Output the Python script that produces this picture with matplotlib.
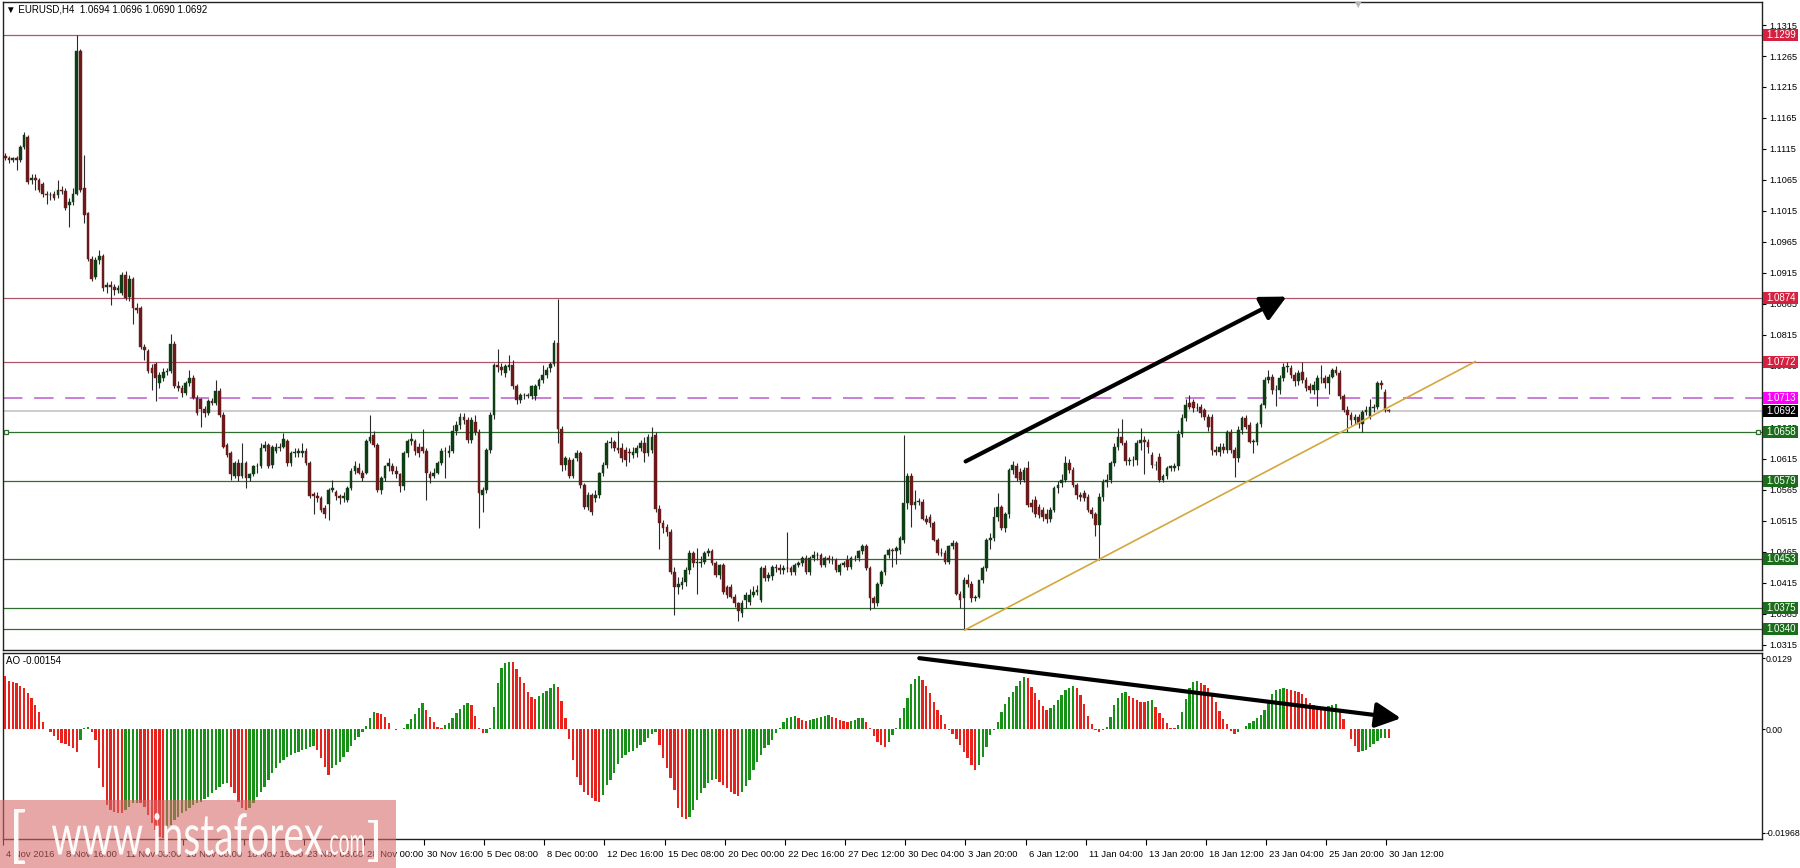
import numpy as np
import matplotlib.pyplot as plt
from matplotlib.patches import Rectangle, FancyArrowPatch, PathPatch
from matplotlib.transforms import blended_transform_factory, ScaledTranslation, Affine2D
from matplotlib.textpath import TextPath
from matplotlib.font_manager import FontProperties

plt.rcParams['font.family'] = ['Liberation Sans', 'DejaVu Sans']

# ---- EURUSD H4 candles, 4 Nov 2016 .. 30 Jan 2017 ----
opens = [
    1.1103, 1.1100, 1.1097, 1.1100, 1.1097, 1.1119, 1.1135, 1.1065, 1.1068, 1.1065,
    1.1059, 1.1043, 1.1040, 1.1043, 1.1040, 1.1049, 1.1048, 1.1024, 1.1030, 1.1043,
    1.1273, 1.1052, 1.1011, 1.0938, 1.0909, 1.0936, 1.0942, 1.0893, 1.0896, 1.0893,
    1.0887, 1.0883, 1.0912, 1.0877, 1.0906, 1.0858, 1.0858, 1.0795, 1.0789, 1.0762,
    1.0769, 1.0737, 1.0746, 1.0756, 1.0757, 1.0800, 1.0733, 1.0730, 1.0721, 1.0737,
    1.0746, 1.0714, 1.0711, 1.0695, 1.0689, 1.0708, 1.0705, 1.0724, 1.0686, 1.0638,
    1.0625, 1.0587, 1.0609, 1.0587, 1.0609, 1.0584, 1.0590, 1.0603, 1.0603, 1.0632,
    1.0638, 1.0606, 1.0628, 1.0635, 1.0635, 1.0644, 1.0609, 1.0625, 1.0625, 1.0625,
    1.0628, 1.0609, 1.0558, 1.0555, 1.0552, 1.0536, 1.0542, 1.0565, 1.0561, 1.0555,
    1.0552, 1.0549, 1.0568, 1.0596, 1.0600, 1.0593, 1.0593, 1.0644, 1.0654, 1.0638,
    1.0565, 1.0584, 1.0603, 1.0603, 1.0596, 1.0590, 1.0571, 1.0625, 1.0644, 1.0644,
    1.0635, 1.0635, 1.0628, 1.0590, 1.0587, 1.0593, 1.0609, 1.0628, 1.0625, 1.0628,
    1.0660, 1.0670, 1.0683, 1.0678, 1.0646, 1.0675, 1.0659, 1.0557, 1.0565, 1.0630,
    1.0686, 1.0767, 1.0764, 1.0753, 1.0764, 1.0767, 1.0732, 1.0710, 1.0718, 1.0718,
    1.0716, 1.0716, 1.0733, 1.0742, 1.0750, 1.0761, 1.0769, 1.0802, 1.0664, 1.0605,
    1.0613, 1.0588, 1.0616, 1.0624, 1.0573, 1.0538, 1.0557, 1.0552, 1.0557, 1.0592,
    1.0605, 1.0640, 1.0642, 1.0632, 1.0632, 1.0630, 1.0627, 1.0621, 1.0624, 1.0632,
    1.0640, 1.0624, 1.0630, 1.0654, 1.0535, 1.0511, 1.0506, 1.0498, 1.0433, 1.0409,
    1.0412, 1.0417, 1.0436, 1.0463, 1.0447, 1.0447, 1.0449, 1.0463, 1.0466, 1.0447,
    1.0428, 1.0444, 1.0409, 1.0409, 1.0393, 1.0382, 1.0366, 1.0388, 1.0385, 1.0396,
    1.0401, 1.0388, 1.0439, 1.0423, 1.0426, 1.0441, 1.0439, 1.0436, 1.0439, 1.0439,
    1.0433, 1.0444, 1.0447, 1.0455, 1.0433, 1.0455, 1.0460, 1.0460, 1.0444, 1.0455,
    1.0452, 1.0452, 1.0433, 1.0444, 1.0452, 1.0441, 1.0455, 1.0455, 1.0466, 1.0474,
    1.0439, 1.0390, 1.0382, 1.0414, 1.0433, 1.0460, 1.0468, 1.0466, 1.0468, 1.0484,
    1.0544, 1.0587, 1.0541, 1.0546, 1.0546, 1.0519, 1.0522, 1.0511, 1.0484, 1.0463,
    1.0463, 1.0449, 1.0474, 1.0479, 1.0398, 1.0390, 1.0420, 1.0414, 1.0390, 1.0393,
    1.0420, 1.0439, 1.0484, 1.0487, 1.0522, 1.0538, 1.0503, 1.0527, 1.0597, 1.0603,
    1.0594, 1.0581, 1.0600, 1.0544, 1.0549, 1.0538, 1.0533, 1.0527, 1.0519, 1.0533,
    1.0568, 1.0576, 1.0581, 1.0608, 1.0597, 1.0573, 1.0557, 1.0560, 1.0554, 1.0533,
    1.0527, 1.0509, 1.0554, 1.0578, 1.0581, 1.0608, 1.0635, 1.0651, 1.0640, 1.0611,
    1.0613, 1.0613, 1.0640, 1.0646, 1.0643, 1.0621, 1.0605, 1.0619, 1.0581, 1.0587,
    1.0600, 1.0600, 1.0603, 1.0656, 1.0681, 1.0705, 1.0707, 1.0697, 1.0699, 1.0694,
    1.0683, 1.0683, 1.0630, 1.0627, 1.0635, 1.0630, 1.0659, 1.0630, 1.0616, 1.0662,
    1.0681, 1.0670, 1.0643, 1.0643, 1.0672, 1.0702, 1.0742, 1.0748, 1.0726, 1.0726,
    1.0745, 1.0764, 1.0761, 1.0750, 1.0740, 1.0756, 1.0742, 1.0732, 1.0726, 1.0726,
    1.0745, 1.0745, 1.0737, 1.0748, 1.0759, 1.0753, 1.0716, 1.0694, 1.0686, 1.0678,
    1.0683, 1.0672, 1.0691, 1.0683, 1.0697, 1.0699, 1.0737, 1.0723, 1.0694,
]
highs = [
    1.1108, 1.1104, 1.1102, 1.1103, 1.1121, 1.1142, 1.1138, 1.1075, 1.1074, 1.1069,
    1.1062, 1.1048, 1.1046, 1.1048, 1.1065, 1.1055, 1.1052, 1.1036, 1.1052, 1.1299,
    1.1277, 1.1106, 1.1014, 1.0942, 1.0940, 1.0952, 1.0945, 1.0900, 1.0902, 1.0898,
    1.0895, 1.0916, 1.0918, 1.0912, 1.0909, 1.0866, 1.0861, 1.0800, 1.0792, 1.0768,
    1.0772, 1.0755, 1.0762, 1.0762, 1.0816, 1.0805, 1.0740, 1.0735, 1.0740, 1.0759,
    1.0750, 1.0718, 1.0714, 1.0700, 1.0711, 1.0714, 1.0743, 1.0730, 1.0690, 1.0641,
    1.0628, 1.0612, 1.0615, 1.0641, 1.0612, 1.0592, 1.0606, 1.0609, 1.0640, 1.0644,
    1.0641, 1.0638, 1.0641, 1.0641, 1.0657, 1.0648, 1.0628, 1.0632, 1.0632, 1.0641,
    1.0632, 1.0612, 1.0562, 1.0561, 1.0555, 1.0540, 1.0568, 1.0581, 1.0565, 1.0558,
    1.0561, 1.0571, 1.0600, 1.0612, 1.0609, 1.0598, 1.0648, 1.0686, 1.0660, 1.0641,
    1.0587, 1.0606, 1.0616, 1.0609, 1.0603, 1.0593, 1.0628, 1.0648, 1.0657, 1.0648,
    1.0641, 1.0663, 1.0632, 1.0596, 1.0600, 1.0612, 1.0632, 1.0635, 1.0638, 1.0670,
    1.0676, 1.0689, 1.0689, 1.0683, 1.0683, 1.0686, 1.0664, 1.0570, 1.0632, 1.0690,
    1.0770, 1.0793, 1.0770, 1.0768, 1.0783, 1.0775, 1.0736, 1.0722, 1.0722, 1.0722,
    1.0735, 1.0736, 1.0745, 1.0767, 1.0764, 1.0772, 1.0807, 1.0873, 1.0668, 1.0620,
    1.0618, 1.0616, 1.0630, 1.0628, 1.0576, 1.0561, 1.0560, 1.0565, 1.0594, 1.0610,
    1.0645, 1.0650, 1.0646, 1.0660, 1.0640, 1.0635, 1.0632, 1.0635, 1.0637, 1.0646,
    1.0650, 1.0656, 1.0667, 1.0659, 1.0540, 1.0516, 1.0510, 1.0502, 1.0440, 1.0425,
    1.0425, 1.0440, 1.0468, 1.0466, 1.0471, 1.0458, 1.0466, 1.0471, 1.0470, 1.0450,
    1.0445, 1.0447, 1.0412, 1.0413, 1.0397, 1.0385, 1.0388, 1.0400, 1.0405, 1.0410,
    1.0412, 1.0443, 1.0444, 1.0433, 1.0444, 1.0445, 1.0445, 1.0444, 1.0498, 1.0443,
    1.0448, 1.0450, 1.0458, 1.0460, 1.0458, 1.0466, 1.0465, 1.0464, 1.0458, 1.0460,
    1.0458, 1.0456, 1.0448, 1.0450, 1.0460, 1.0458, 1.0460, 1.0468, 1.0478, 1.0478,
    1.0442, 1.0394, 1.0417, 1.0436, 1.0462, 1.0471, 1.0472, 1.0474, 1.0490, 1.0654,
    1.0592, 1.0592, 1.0565, 1.0552, 1.0550, 1.0525, 1.0526, 1.0515, 1.0488, 1.0472,
    1.0468, 1.0476, 1.0484, 1.0482, 1.0402, 1.0425, 1.0430, 1.0418, 1.0396, 1.0420,
    1.0442, 1.0488, 1.0495, 1.0538, 1.0560, 1.0541, 1.0530, 1.0600, 1.0612, 1.0608,
    1.0600, 1.0602, 1.0612, 1.0550, 1.0555, 1.0542, 1.0538, 1.0535, 1.0538, 1.0572,
    1.0580, 1.0590, 1.0620, 1.0615, 1.0602, 1.0577, 1.0562, 1.0565, 1.0558, 1.0537,
    1.0530, 1.0560, 1.0582, 1.0590, 1.0612, 1.0640, 1.0665, 1.0680, 1.0646, 1.0618,
    1.0620, 1.0645, 1.0665, 1.0652, 1.0648, 1.0626, 1.0612, 1.0624, 1.0590, 1.0603,
    1.0606, 1.0608, 1.0662, 1.0688, 1.0712, 1.0718, 1.0712, 1.0705, 1.0704, 1.0698,
    1.0688, 1.0688, 1.0636, 1.0640, 1.0640, 1.0662, 1.0664, 1.0634, 1.0668, 1.0684,
    1.0686, 1.0674, 1.0648, 1.0675, 1.0705, 1.0748, 1.0758, 1.0752, 1.0735, 1.0750,
    1.0770, 1.0772, 1.0766, 1.0755, 1.0758, 1.0772, 1.0748, 1.0738, 1.0740, 1.0750,
    1.0767, 1.0750, 1.0752, 1.0762, 1.0765, 1.0758, 1.0720, 1.0700, 1.0690, 1.0688,
    1.0687, 1.0694, 1.0700, 1.0712, 1.0704, 1.0740, 1.0742, 1.0728, 1.0696,
]
lows = [
    1.1098, 1.1093, 1.1094, 1.1081, 1.1094, 1.1115, 1.1059, 1.1058, 1.1049, 1.1045,
    1.1038, 1.1027, 1.1033, 1.1033, 1.1036, 1.1043, 1.1017, 1.0989, 1.1024, 1.1040,
    1.1046, 1.0995, 1.0935, 1.0902, 1.0905, 1.0930, 1.0886, 1.0883, 1.0864, 1.0880,
    1.0882, 1.0880, 1.0872, 1.0870, 1.0832, 1.0850, 1.0793, 1.0775, 1.0754, 1.0727,
    1.0708, 1.0730, 1.0740, 1.0750, 1.0753, 1.0730, 1.0724, 1.0715, 1.0718, 1.0733,
    1.0711, 1.0686, 1.0667, 1.0683, 1.0686, 1.0702, 1.0702, 1.0683, 1.0632, 1.0619,
    1.0581, 1.0584, 1.0580, 1.0584, 1.0568, 1.0580, 1.0587, 1.0593, 1.0600, 1.0628,
    1.0600, 1.0600, 1.0625, 1.0628, 1.0632, 1.0603, 1.0603, 1.0619, 1.0619, 1.0619,
    1.0606, 1.0552, 1.0526, 1.0545, 1.0530, 1.0520, 1.0517, 1.0561, 1.0549, 1.0542,
    1.0545, 1.0545, 1.0565, 1.0590, 1.0590, 1.0580, 1.0590, 1.0641, 1.0635, 1.0561,
    1.0558, 1.0580, 1.0596, 1.0590, 1.0584, 1.0561, 1.0565, 1.0619, 1.0638, 1.0622,
    1.0619, 1.0625, 1.0549, 1.0577, 1.0584, 1.0590, 1.0606, 1.0584, 1.0619, 1.0625,
    1.0654, 1.0663, 1.0672, 1.0640, 1.0640, 1.0654, 1.0503, 1.0530, 1.0560, 1.0624,
    1.0680, 1.0755, 1.0750, 1.0748, 1.0758, 1.0728, 1.0704, 1.0705, 1.0712, 1.0713,
    1.0712, 1.0710, 1.0728, 1.0738, 1.0745, 1.0756, 1.0765, 1.0640, 1.0595, 1.0598,
    1.0585, 1.0585, 1.0612, 1.0568, 1.0535, 1.0532, 1.0525, 1.0546, 1.0552, 1.0588,
    1.0600, 1.0632, 1.0628, 1.0624, 1.0610, 1.0603, 1.0610, 1.0616, 1.0618, 1.0628,
    1.0610, 1.0620, 1.0625, 1.0530, 1.0470, 1.0495, 1.0490, 1.0430, 1.0363, 1.0398,
    1.0405, 1.0410, 1.0430, 1.0440, 1.0398, 1.0440, 1.0445, 1.0458, 1.0444, 1.0425,
    1.0422, 1.0398, 1.0390, 1.0390, 1.0376, 1.0353, 1.0360, 1.0375, 1.0380, 1.0392,
    1.0396, 1.0385, 1.0418, 1.0418, 1.0420, 1.0432, 1.0430, 1.0430, 1.0432, 1.0428,
    1.0428, 1.0440, 1.0442, 1.0430, 1.0428, 1.0450, 1.0452, 1.0440, 1.0440, 1.0448,
    1.0446, 1.0432, 1.0428, 1.0440, 1.0436, 1.0437, 1.0450, 1.0450, 1.0462, 1.0436,
    1.0371, 1.0375, 1.0378, 1.0410, 1.0428, 1.0455, 1.0440, 1.0445, 1.0462, 1.0480,
    1.0535, 1.0506, 1.0535, 1.0540, 1.0516, 1.0510, 1.0505, 1.0482, 1.0460, 1.0458,
    1.0445, 1.0445, 1.0470, 1.0395, 1.0374, 1.0339, 1.0408, 1.0385, 1.0386, 1.0390,
    1.0415, 1.0435, 1.0470, 1.0482, 1.0515, 1.0500, 1.0498, 1.0520, 1.0590, 1.0580,
    1.0575, 1.0578, 1.0538, 1.0530, 1.0522, 1.0520, 1.0515, 1.0512, 1.0514, 1.0530,
    1.0560, 1.0570, 1.0578, 1.0592, 1.0570, 1.0550, 1.0548, 1.0548, 1.0530, 1.0520,
    1.0490, 1.0452, 1.0548, 1.0570, 1.0577, 1.0603, 1.0630, 1.0638, 1.0605, 1.0605,
    1.0603, 1.0605, 1.0630, 1.0590, 1.0625, 1.0600, 1.0598, 1.0578, 1.0578, 1.0582,
    1.0595, 1.0596, 1.0598, 1.0650, 1.0676, 1.0695, 1.0690, 1.0692, 1.0682, 1.0678,
    1.0660, 1.0622, 1.0622, 1.0620, 1.0625, 1.0625, 1.0625, 1.0586, 1.0610, 1.0656,
    1.0664, 1.0640, 1.0624, 1.0638, 1.0666, 1.0698, 1.0738, 1.0720, 1.0700, 1.0720,
    1.0740, 1.0755, 1.0745, 1.0733, 1.0735, 1.0738, 1.0725, 1.0722, 1.0720, 1.0700,
    1.0738, 1.0730, 1.0720, 1.0745, 1.0750, 1.0712, 1.0690, 1.0659, 1.0670, 1.0672,
    1.0665, 1.0659, 1.0686, 1.0680, 1.0690, 1.0695, 1.0728, 1.0690, 1.0690,
]
closes = [
    1.1100, 1.1097, 1.1100, 1.1097, 1.1119, 1.1138, 1.1062, 1.1068, 1.1065, 1.1049,
    1.1043, 1.1040, 1.1040, 1.1036, 1.1049, 1.1048, 1.1020, 1.1030, 1.1043, 1.1273,
    1.1049, 1.1008, 1.0938, 1.0906, 1.0936, 1.0942, 1.0890, 1.0896, 1.0893, 1.0887,
    1.0890, 1.0912, 1.0874, 1.0906, 1.0858, 1.0855, 1.0795, 1.0791, 1.0757, 1.0753,
    1.0746, 1.0750, 1.0756, 1.0757, 1.0800, 1.0733, 1.0730, 1.0721, 1.0737, 1.0746,
    1.0714, 1.0689, 1.0695, 1.0689, 1.0708, 1.0705, 1.0724, 1.0686, 1.0635, 1.0622,
    1.0590, 1.0609, 1.0587, 1.0609, 1.0584, 1.0590, 1.0603, 1.0603, 1.0632, 1.0638,
    1.0603, 1.0635, 1.0635, 1.0632, 1.0648, 1.0609, 1.0625, 1.0625, 1.0628, 1.0628,
    1.0609, 1.0555, 1.0555, 1.0552, 1.0533, 1.0526, 1.0565, 1.0568, 1.0555, 1.0552,
    1.0555, 1.0568, 1.0596, 1.0603, 1.0593, 1.0584, 1.0644, 1.0651, 1.0638, 1.0565,
    1.0584, 1.0603, 1.0609, 1.0596, 1.0590, 1.0571, 1.0625, 1.0644, 1.0648, 1.0628,
    1.0625, 1.0628, 1.0593, 1.0584, 1.0593, 1.0609, 1.0628, 1.0628, 1.0628, 1.0660,
    1.0670, 1.0683, 1.0678, 1.0646, 1.0678, 1.0659, 1.0560, 1.0565, 1.0630, 1.0686,
    1.0767, 1.0764, 1.0759, 1.0765, 1.0767, 1.0732, 1.0710, 1.0718, 1.0718, 1.0717,
    1.0732, 1.0733, 1.0742, 1.0750, 1.0759, 1.0769, 1.0802, 1.0664, 1.0605, 1.0616,
    1.0588, 1.0613, 1.0624, 1.0573, 1.0538, 1.0557, 1.0530, 1.0557, 1.0592, 1.0605,
    1.0640, 1.0642, 1.0632, 1.0630, 1.0616, 1.0613, 1.0624, 1.0627, 1.0632, 1.0640,
    1.0624, 1.0651, 1.0651, 1.0535, 1.0511, 1.0503, 1.0498, 1.0433, 1.0409, 1.0414,
    1.0417, 1.0436, 1.0463, 1.0447, 1.0449, 1.0449, 1.0463, 1.0466, 1.0447, 1.0428,
    1.0444, 1.0401, 1.0396, 1.0393, 1.0382, 1.0369, 1.0382, 1.0396, 1.0396, 1.0401,
    1.0404, 1.0439, 1.0423, 1.0428, 1.0441, 1.0439, 1.0436, 1.0439, 1.0439, 1.0433,
    1.0444, 1.0447, 1.0455, 1.0433, 1.0455, 1.0460, 1.0460, 1.0444, 1.0455, 1.0452,
    1.0452, 1.0436, 1.0444, 1.0447, 1.0441, 1.0455, 1.0455, 1.0466, 1.0474, 1.0439,
    1.0390, 1.0382, 1.0414, 1.0433, 1.0460, 1.0468, 1.0466, 1.0471, 1.0487, 1.0544,
    1.0587, 1.0541, 1.0546, 1.0546, 1.0519, 1.0514, 1.0511, 1.0484, 1.0463, 1.0463,
    1.0449, 1.0474, 1.0479, 1.0398, 1.0388, 1.0420, 1.0414, 1.0390, 1.0393, 1.0420,
    1.0439, 1.0484, 1.0487, 1.0522, 1.0538, 1.0503, 1.0527, 1.0597, 1.0605, 1.0584,
    1.0581, 1.0597, 1.0541, 1.0538, 1.0527, 1.0525, 1.0522, 1.0519, 1.0533, 1.0568,
    1.0573, 1.0581, 1.0608, 1.0597, 1.0573, 1.0557, 1.0554, 1.0552, 1.0533, 1.0527,
    1.0509, 1.0554, 1.0578, 1.0581, 1.0608, 1.0635, 1.0651, 1.0640, 1.0611, 1.0613,
    1.0613, 1.0640, 1.0646, 1.0643, 1.0635, 1.0605, 1.0605, 1.0581, 1.0587, 1.0600,
    1.0603, 1.0603, 1.0656, 1.0681, 1.0702, 1.0699, 1.0697, 1.0697, 1.0689, 1.0683,
    1.0667, 1.0630, 1.0627, 1.0635, 1.0630, 1.0659, 1.0630, 1.0616, 1.0662, 1.0681,
    1.0667, 1.0643, 1.0643, 1.0672, 1.0702, 1.0742, 1.0748, 1.0726, 1.0726, 1.0745,
    1.0764, 1.0764, 1.0750, 1.0740, 1.0753, 1.0742, 1.0729, 1.0726, 1.0734, 1.0745,
    1.0745, 1.0737, 1.0748, 1.0759, 1.0753, 1.0716, 1.0694, 1.0686, 1.0678, 1.0683,
    1.0672, 1.0691, 1.0694, 1.0699, 1.0699, 1.0737, 1.0734, 1.0694, 1.0692,
]

# Awesome Oscillator values per bar
ao = [
    0.00934, 0.00853, 0.00835, 0.00806, 0.00759, 0.00718, 0.00631, 0.00543, 0.00426, 0.00310,
    0.00134, 0.00012, -0.00041, -0.00117, -0.00187, -0.00245, -0.00263, -0.00292, -0.00333, -0.00391,
    -0.00187, 0.00018, 0.00035, -0.00041, -0.00187, -0.00683, -0.01004, -0.01326, -0.01413, -0.01442,
    -0.01460, -0.01472, -0.01413, -0.01355, -0.01296, -0.01285, -0.01296, -0.01355, -0.01501, -0.01647,
    -0.01764, -0.01880, -0.01910, -0.01793, -0.01676, -0.01588, -0.01530, -0.01472, -0.01425, -0.01384,
    -0.01326, -0.01296, -0.01267, -0.01226, -0.01180, -0.01121, -0.01063, -0.01004, -0.00958, -0.00934,
    -0.01004, -0.01121, -0.01267, -0.01384, -0.01413, -0.01384, -0.01296, -0.01180, -0.01092, -0.01004,
    -0.00888, -0.00771, -0.00683, -0.00596, -0.00537, -0.00491, -0.00450, -0.00420, -0.00397, -0.00362,
    -0.00339, -0.00315, -0.00292, -0.00362, -0.00508, -0.00654, -0.00800, -0.00683, -0.00625, -0.00566,
    -0.00479, -0.00391, -0.00292, -0.00187, -0.00128, -0.00041, 0.00058, 0.00193, 0.00310, 0.00292,
    0.00269, 0.00210, 0.00105, 0.00012, -0.00012, 0.00002, 0.00018, 0.00093, 0.00175, 0.00269,
    0.00368, 0.00456, 0.00339, 0.00222, 0.00134, 0.00035, 0.00018, 0.00076, 0.00105, 0.00193,
    0.00292, 0.00350, 0.00426, 0.00467, 0.00426, 0.00234, 0.00018, -0.00070, -0.00058, 0.00018,
    0.00397, 0.00806, 0.01069, 0.01156, 0.01186, 0.01180, 0.01051, 0.00923, 0.00806, 0.00660,
    0.00572, 0.00526, 0.00584, 0.00631, 0.00677, 0.00718, 0.00794, 0.00748, 0.00502, 0.00193,
    -0.00175, -0.00537, -0.00829, -0.00975, -0.01092, -0.01150, -0.01197, -0.01256, -0.01273, -0.01150,
    -0.00975, -0.00888, -0.00759, -0.00613, -0.00508, -0.00450, -0.00391, -0.00380, -0.00333, -0.00274,
    -0.00228, -0.00158, -0.00088, -0.00053, -0.00274, -0.00508, -0.00683, -0.00858, -0.01063, -0.01384,
    -0.01530, -0.01571, -0.01530, -0.01413, -0.01238, -0.01121, -0.01034, -0.00946, -0.00888, -0.00870,
    -0.00917, -0.00975, -0.01034, -0.01092, -0.01139, -0.01162, -0.01104, -0.00987, -0.00888, -0.00712,
    -0.00566, -0.00450, -0.00333, -0.00274, -0.00187, -0.00070, 0.00018, 0.00123, 0.00193, 0.00222,
    0.00234, 0.00204, 0.00158, 0.00146, 0.00164, 0.00181, 0.00204, 0.00222, 0.00239, 0.00245,
    0.00216, 0.00193, 0.00169, 0.00140, 0.00123, 0.00146, 0.00169, 0.00193, 0.00204, 0.00134,
    0.00018, -0.00111, -0.00228, -0.00274, -0.00304, -0.00216, -0.00099, 0.00029, 0.00204, 0.00380,
    0.00543, 0.00788, 0.00882, 0.00940, 0.00864, 0.00765, 0.00631, 0.00473, 0.00339, 0.00251,
    0.00088, -0.00012, -0.00088, -0.00169, -0.00274, -0.00403, -0.00508, -0.00625, -0.00712, -0.00625,
    -0.00479, -0.00304, -0.00099, -0.00012, 0.00123, 0.00310, 0.00438, 0.00561, 0.00660, 0.00753,
    0.00847, 0.00923, 0.00905, 0.00748, 0.00631, 0.00514, 0.00415, 0.00339, 0.00368, 0.00426,
    0.00514, 0.00602, 0.00689, 0.00730, 0.00753, 0.00730, 0.00602, 0.00438, 0.00239, 0.00088,
    -0.00018, -0.00053, -0.00018, 0.00047, 0.00222, 0.00426, 0.00555, 0.00631, 0.00660, 0.00590,
    0.00543, 0.00508, 0.00485, 0.00473, 0.00496, 0.00514, 0.00397, 0.00280, 0.00193, 0.00105,
    0.00029, 0.00018, 0.00076, 0.00310, 0.00531, 0.00730, 0.00823, 0.00847, 0.00806, 0.00777,
    0.00730, 0.00631, 0.00473, 0.00321, 0.00181, 0.00088, -0.00029, -0.00088, -0.00053, 0.00006,
    0.00064, 0.00105, 0.00146, 0.00204, 0.00251, 0.00339, 0.00496, 0.00613, 0.00683, 0.00712,
    0.00718, 0.00707, 0.00689, 0.00672, 0.00660, 0.00625, 0.00555, 0.00456, 0.00426, 0.00403,
    0.00391, 0.00380, 0.00403, 0.00426, 0.00438, 0.00339, 0.00181, 0.00006, -0.00169, -0.00292,
    -0.00391, -0.00380, -0.00356, -0.00304, -0.00251, -0.00199, -0.00158, -0.00146, -0.00154,
]

time_labels = ['4 Nov 2016', '8 Nov 16:00', '11 Nov 08:00', '16 Nov 00:00', '18 Nov 16:00',
               '23 Nov 08:00', '28 Nov 00:00', '30 Nov 16:00', '5 Dec 08:00', '8 Dec 00:00',
               '12 Dec 16:00', '15 Dec 08:00', '20 Dec 00:00', '22 Dec 16:00', '27 Dec 12:00',
               '30 Dec 04:00', '3 Jan 20:00', '6 Jan 12:00', '11 Jan 04:00', '13 Jan 20:00',
               '18 Jan 12:00', '23 Jan 04:00', '25 Jan 20:00', '30 Jan 12:00']
bars_per_label = 16

price_ticks = [round(1.0315 + 0.005 * k, 4) for k in range(21)]

red_levels = [1.1299, 1.0874, 1.0772]
green_levels = [1.0658, 1.0579, 1.0453, 1.0375, 1.0340]
pivot_level = 1.0713
bid_level = 1.0692

trend_x = [255.2, 391.0]
trend_y = [1.0339, 1.0772]
price_arrow = [(254.8, 1.0609), (341.5, 1.0879)]
ao_arrow = [(242.4, 0.01252), (372.0, 0.00187)]

# ---- figure layout (pixel based, 1800x868) ----
W, H = 1800, 868
fig = plt.figure(figsize=(W / 100, H / 100), dpi=100)
fig.patch.set_facecolor('white')

left_px, right_px = 3, 1762
p_top, p_bot = 2, 650
a_top, a_bot = 653, 839

ax = fig.add_axes([left_px / W, 1 - p_bot / H, (right_px - left_px) / W, (p_bot - p_top) / H])
ax2 = fig.add_axes([left_px / W, 1 - a_bot / H, (right_px - left_px) / W, (a_bot - a_top) / H], sharex=ax)

o = np.array(opens)
hi = np.array(highs)
lo = np.array(lows)
c = np.array(closes)
x = np.arange(len(c))
up = c >= o

bull, bear, wick = '#0f3d14', '#6a1a1a', '#2a2a2a'
y_lo, y_hi = 1.03069, 1.13521
ax.set_ylim(y_lo, y_hi)
ax.set_xlim(-0.27, 467.3)

# level lines
for lv in red_levels:
    ax.axhline(lv, color='#b0566a', lw=0.9, zorder=1)
for lv in green_levels:
    ax.axhline(lv, color='#2f6e2f', lw=0.9, zorder=1)
ax.axhline(pivot_level, color='#c77fd6', lw=1.4, dashes=(10, 6), zorder=1)
ax.axhline(bid_level, color='#c8c8c8', lw=1.3, zorder=1)

# candles
ax.vlines(x, lo, hi, color=wick, lw=0.8, zorder=3)
body_bot = np.minimum(o, c)
body_h = np.maximum(np.abs(c - o), 0.00006)
ax.bar(x[up], body_h[up], bottom=body_bot[up], width=0.72, color=bull, edgecolor=bull, lw=0.3, zorder=4)
ax.bar(x[~up], body_h[~up], bottom=body_bot[~up], width=0.72, color=bear, edgecolor=bear, lw=0.3, zorder=4)

# trendline and arrow
ax.plot(trend_x, trend_y, color='#d3a73c', lw=1.2, zorder=5)
ax.add_patch(FancyArrowPatch(price_arrow[0], price_arrow[1], arrowstyle='-|>,head_length=0.7,head_width=0.35',
                             mutation_scale=22, lw=3.0, color='black', zorder=6))

# small squares at ends of 1.0658 line
tr_ax = blended_transform_factory(ax.transAxes, ax.transData)
ax.plot([0.0015, 0.9975], [green_levels[0]] * 2, 's', ms=3.5, mfc='white', mec='#2f6e2f', mew=0.9,
        transform=tr_ax, zorder=7, clip_on=False)

# axis styling
for a in (ax, ax2):
    for s in a.spines.values():
        s.set_color('#222222')
        s.set_linewidth(1.0)
    a.set_facecolor('white')
ax.yaxis.tick_right()
ax.set_yticks(price_ticks)
ax.set_yticklabels(['%.4f' % t for t in price_ticks])
ax.tick_params(axis='y', direction='out', length=3, width=0.8, pad=2, labelsize=6.6, colors='black')
ax.tick_params(axis='x', bottom=False, labelbottom=False)

# price label boxes on the right scale
px_per_price = (p_bot - p_top) / (y_hi - y_lo)
hh = 6.0 / px_per_price
box_w = 35.0 / (right_px - left_px)
def price_box(level, fc):
    ax.add_patch(Rectangle((1.0007, level - hh), box_w, 2 * hh, transform=tr_ax, fc=fc, ec='none',
                           clip_on=False, zorder=20))
    ax.text(1.0007 + box_w / 2, level, '%.4f' % level, transform=tr_ax, ha='center', va='center',
            color='white', fontsize=7, zorder=21, clip_on=False)
for lv in red_levels:
    price_box(lv, '#d5203f')
price_box(pivot_level, '#ff00ff')
price_box(bid_level, '#000000')
for lv in green_levels:
    price_box(lv, '#1b6d1b')

# AO histogram
ao_v = np.array(ao)
ao_up = np.r_[False, ao_v[1:] > ao_v[:-1]]
ax2.bar(x, ao_v, width=0.62, color=np.where(ao_up, '#179117', '#e8231e'), lw=0, zorder=3)
S = 5709.0
ax2.set_ylim(-(a_bot - 729.3) / S, (729.3 - a_top) / S)
ax2.add_patch(FancyArrowPatch(ao_arrow[0], ao_arrow[1], arrowstyle='-|>,head_length=0.7,head_width=0.35',
                              mutation_scale=22, lw=3.0, color='black', zorder=6))
ax2.yaxis.tick_right()
ax2.set_yticks([(729.3 - 658) / S, 0.0, -(833 - 729.3) / S])
ax2.set_yticklabels(['0.0129', '0.00', '-0.01968'])
ax2.tick_params(axis='y', direction='out', length=2, width=0.8, pad=0.8, labelsize=6.3, colors='black')

ax2.set_xticks([bars_per_label * k - 0.6 for k in range(len(time_labels))])
ax2.set_xticklabels(time_labels, ha='left')
ax2.tick_params(axis='x', direction='out', length=4, width=0.8, pad=4, labelsize=6.8, colors='black')
shift = ScaledTranslation(3 / 100, 0, fig.dpi_scale_trans)
for lab in ax2.get_xticklabels():
    lab.set_transform(lab.get_transform() + shift)

# header texts
fig.text(6 / W, 1 - 10 / H, '\u25bc EURUSD,H4  1.0694 1.0696 1.0690 1.0692', fontsize=7, va='center',
         family=['Liberation Sans', 'DejaVu Sans'])
fig.text(6 / W, 1 - 661 / H, 'AO -0.00154', fontsize=7, va='center')
fig.text(1358 / W, 1 - 5 / H, '\u25bc', fontsize=6, color='#b5b5b5', ha='center', va='center',
         family=['DejaVu Sans'])

# watermark: translucent pink plate with condensed white lettering
fig.patches.append(Rectangle((0, 0), 396 / W, 68 / H, transform=fig.transFigure, fc='#d86868',
                             ec='none', alpha=0.58, zorder=50))
wm_font = FontProperties(family=['Lato', 'Open Sans', 'DejaVu Sans'], weight='normal')

def wm_word(s, x_left, x_right, y_top, y_bot):
    # fit the glyph outlines into a pixel box (pixels from the top-left corner)
    tp = TextPath((0, 0), s, size=100, prop=wm_font)
    ext = tp.get_extents()
    sx = (x_right - x_left) / ext.width
    sy = (y_bot - y_top) / ext.height
    tr = Affine2D().translate(-ext.x0, -ext.y0).scale(sx, sy).translate(x_left, H - y_bot)
    fig.add_artist(PathPatch(tp, transform=tr, fc='white', ec='none', alpha=0.95, zorder=51))

wm_word('[', 14, 25, 809, 864)
wm_word('www.instaforex', 52, 323, 813, 855)
wm_word('.com', 326, 364, 835, 855)
wm_word(']', 368, 378, 820, 862)

fig.savefig('out.png', dpi=100, facecolor='white')
